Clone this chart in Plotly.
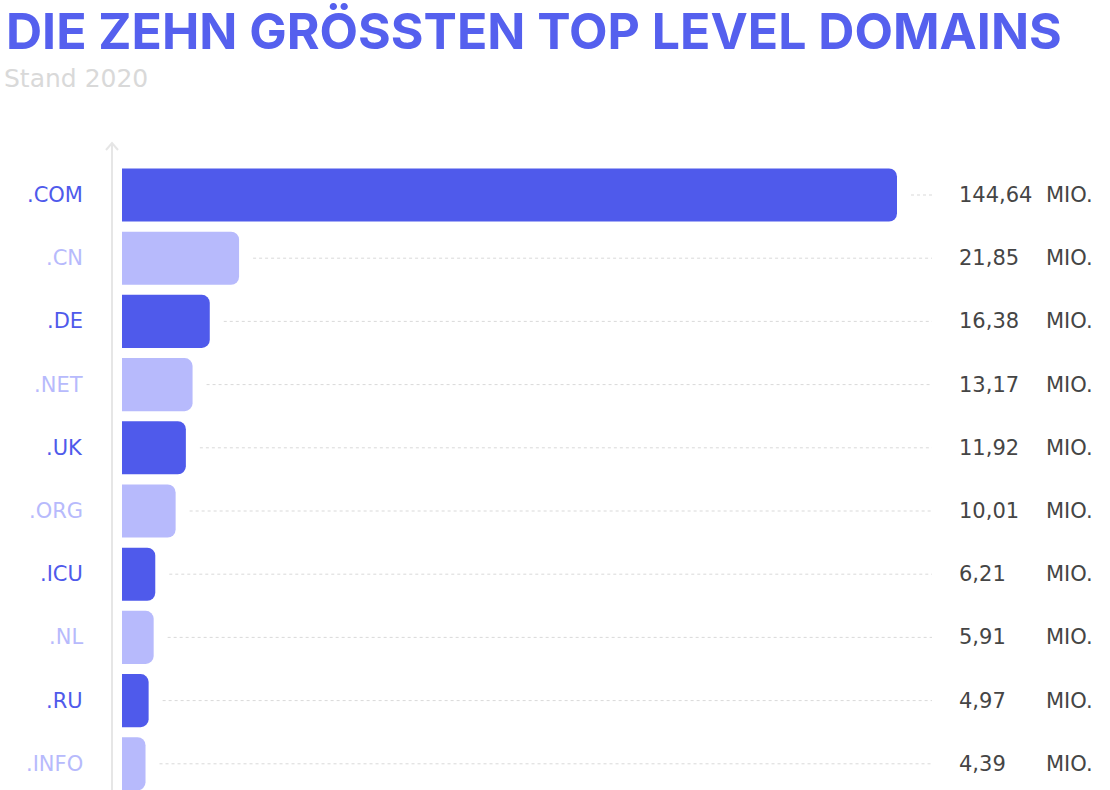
import plotly.graph_objects as go

categories = [".COM", ".CN", ".DE", ".NET", ".UK", ".ORG", ".ICU", ".NL", ".RU", ".INFO"]
values = [144.64, 21.85, 16.38, 13.17, 11.92, 10.01, 6.21, 5.91, 4.97, 4.39]
value_labels = ["144,64", "21,85", "16,38", "13,17", "11,92", "10,01", "6,21", "5,91", "4,97", "4,39"]
unit_label = "MIO."

DARK = "#4F5AEB"
LIGHT = "#B7BAFC"
colors = [DARK if i % 2 == 0 else LIGHT for i in range(len(categories))]

W, H = 1110, 790
x0_px, xmax_px = 122, 897
scale = (xmax_px - x0_px) / max(values)
x_lo = -x0_px / scale
x_hi = x_lo + W / scale

row0_px, row_step = 195, 63.2
y_top = -row0_px / row_step
y_bot = (H - row0_px) / row_step

fig = go.Figure()
fig.add_trace(go.Bar(
    x=values, y=categories, orientation="h",
    marker=dict(color=colors, line=dict(width=0)),
    hoverinfo="skip",
))

shapes = []
gap = 14 / scale
line_end = (932 - x0_px) / scale
for c, v in zip(categories, values):
    shapes.append(dict(type="line", xref="x", yref="y", x0=v + gap, x1=line_end,
                       y0=c, y1=c, line=dict(color="#D9D9D9", width=1, dash="dot")))

# axis line with arrow
ax_x = 112 / W
shapes.append(dict(type="line", xref="paper", yref="paper", x0=ax_x, x1=ax_x,
                   y0=0, y1=1 - 143 / H, line=dict(color="#E6E6E6", width=2)))
shapes.append(dict(type="path", xref="paper", yref="paper",
                   path=f"M {106/W} {1-150/H} L {ax_x} {1-143/H} L {118/W} {1-150/H}",
                   line=dict(color="#E6E6E6", width=2)))

LABEL_FONT = "DejaVu Sans"
annotations = []
for i, (c, lab) in enumerate(zip(categories, value_labels)):
    annotations.append(dict(xref="paper", yref="y", x=85 / W, y=c, text=c, showarrow=False,
                            xanchor="right", yanchor="middle",
                            font=dict(family=LABEL_FONT, size=21, color=colors[i])))
    annotations.append(dict(xref="paper", yref="y", x=957 / W, y=c, text=lab, showarrow=False,
                            xanchor="left", yanchor="middle",
                            font=dict(family=LABEL_FONT, size=21, color="#454545")))
    annotations.append(dict(xref="paper", yref="y", x=1044 / W, y=c, text=unit_label, showarrow=False,
                            xanchor="left", yanchor="middle",
                            font=dict(family=LABEL_FONT, size=21, color="#454545")))

annotations.append(dict(xref="paper", yref="paper", x=5 / W, y=1,
                        text="DIE ZEHN GRÖSSTEN TOP LEVEL DOMAINS", showarrow=False,
                        xanchor="left", yanchor="top", borderpad=0,
                        font=dict(family="Inter", size=50, color="#5560EE", weight=700)))
annotations.append(dict(xref="paper", yref="paper", x=3 / W, y=1 - 63 / H,
                        text="Stand 2020", showarrow=False,
                        xanchor="left", yanchor="top", borderpad=0,
                        font=dict(family=LABEL_FONT, size=25, color="#D9D9D9")))

fig.update_layout(
    width=W, height=H,
    margin=dict(l=0, r=0, t=0, b=0),
    paper_bgcolor="white", plot_bgcolor="white",
    showlegend=False,
    bargap=0.16,
    barcornerradius=8,
    xaxis=dict(range=[x_lo, x_hi], visible=False, fixedrange=True),
    yaxis=dict(range=[y_bot, y_top], visible=False, fixedrange=True,
               categoryorder="array", categoryarray=categories),
    shapes=shapes,
    annotations=annotations,
)

fig.write_html("out.html")
